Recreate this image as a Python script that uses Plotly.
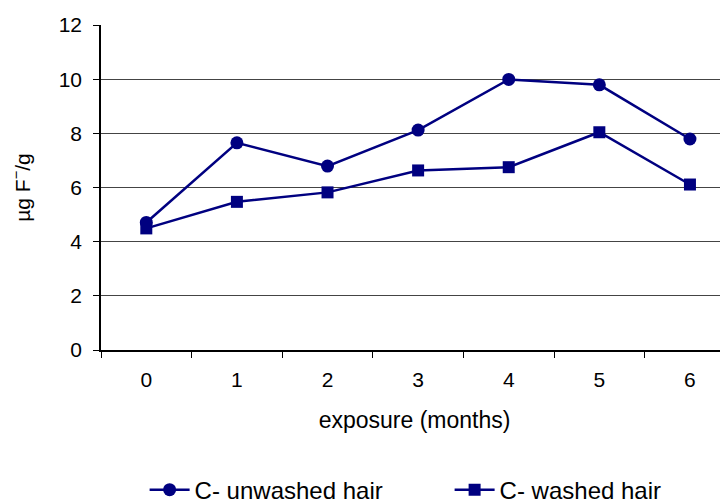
import plotly.graph_objects as go

months = ["0", "1", "2", "3", "4", "5", "6"]
unwashed = [4.71, 7.65, 6.79, 8.12, 9.99, 9.79, 7.79]
washed = [4.49, 5.47, 5.82, 6.63, 6.75, 8.04, 6.11]
y_ticks = [0, 2, 4, 6, 8, 10, 12]

navy = "#000080"
font = "Liberation Sans, Arial, sans-serif"

fig = go.Figure()
fig.add_trace(go.Scatter(x=months, y=unwashed, mode="lines+markers", name="C- unwashed hair",
                         line=dict(color=navy, width=2.5),
                         marker=dict(symbol="circle", size=13, color=navy)))
fig.add_trace(go.Scatter(x=months, y=washed, mode="lines+markers", name="C- washed hair",
                         line=dict(color=navy, width=2.5),
                         marker=dict(symbol="square", size=12, color=navy)))

fig.update_layout(
    width=720, height=496,
    margin=dict(l=93, r=0, t=17, b=154, autoexpand=False),
    paper_bgcolor="white", plot_bgcolor="white",
    font=dict(family=font, size=20, color="black"),
    showlegend=True,
    legend=dict(orientation="h", x=0.556, xanchor="center", xref="paper",
                y=0.028, yanchor="middle", yref="container",
                font=dict(size=24), itemwidth=40, entrywidth=250, tracegroupgap=0),
    xaxis=dict(type="category", range=[-0.5, 6.42], tickson="boundaries",
               ticks="outside", ticklen=6, tickcolor="black", tickwidth=1,
               ticklabelstandoff=10,
               showline=True, linecolor="black", linewidth=1.5, showgrid=False,
               title=dict(text="exposure (months)", standoff=22, font=dict(size=23)),
               tickfont=dict(size=21)),
    yaxis=dict(range=[0, 12], tickvals=y_ticks, ticks="outside", ticklen=6,
               tickcolor="black", ticklabelstandoff=7,
               showline=True, linecolor="black", linewidth=1.5,
               showgrid=True, gridcolor="#444444", gridwidth=1, zeroline=False,
               title=dict(text="µg F<sup>−</sup>/g", standoff=36, font=dict(size=21)),
               tickfont=dict(size=21)),
)

fig.write_html("out.html")
